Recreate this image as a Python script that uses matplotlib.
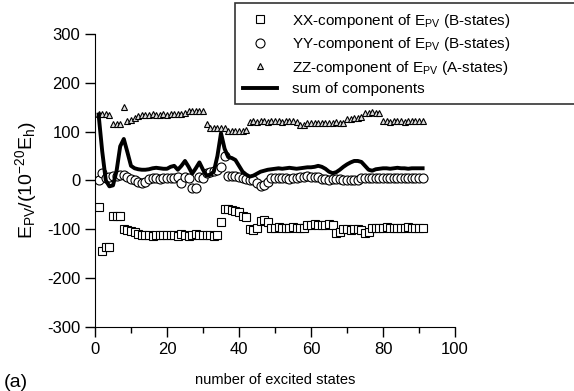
import numpy as np
import matplotlib
matplotlib.use("Agg")
import matplotlib.pyplot as plt

plt.rcParams['font.family'] = ['Liberation Sans', 'DejaVu Sans']
plt.rcParams['mathtext.fontset'] = 'custom'
plt.rcParams['mathtext.rm'] = 'Liberation Sans'
plt.rcParams['mathtext.it'] = 'Liberation Sans'
plt.rcParams['axes.unicode_minus'] = False

# number of excited states, 1..91
states = np.arange(1, 92)

# XX-component of E_PV (B-states)
xx_comp = [-55, -145, -137, -136, -72, -72, -72, -100, -101, -104,
           -106, -110, -112, -111, -112, -113, -112, -111, -112, -112,
           -111, -112, -113, -110, -112, -113, -111, -110, -111, -112,
           -111, -112, -113, -112, -84, -58, -58, -60, -62, -64,
           -73, -75, -100, -101, -97, -82, -80, -84, -97, -97,
           -96, -97, -98, -97, -96, -97, -97, -98, -91, -91,
           -90, -91, -92, -91, -90, -91, -107, -106, -100, -100,
           -101, -100, -100, -101, -107, -106, -97, -97, -98, -97,
           -96, -97, -97, -98, -97, -97, -96, -97, -98, -97, -97]

# YY-component of E_PV (B-states)
yy_comp = [0, 15, 5, 8, 10, 10, 12, 12, 8, 3,
           0, -3, -5, -3, 3, 5, 5, 4, 5, 6,
           5, 5, 8, -5, 8, 5, -15, -15, 8, 5,
           15, 18, 20, 22, 28, 50, 10, 10, 9, 8,
           5, 3, 2, 0, -5, -12, -10, -3, 5, 5,
           5, 6, 5, 4, 5, 5, 8, 8, 9, 8,
           8, 8, 3, 3, 2, 3, 3, 3, 2, 2,
           2, 2, 2, 5, 5, 5, 5, 6, 5, 5,
           5, 5, 5, 6, 5, 5, 5, 5, 5, 5, 5]

# ZZ-component of E_PV (A-states)
zz_comp = [136, 137, 136, 135, 116, 115, 116, 150, 122, 124,
           128, 133, 135, 134, 135, 136, 135, 135, 136, 135,
           136, 137, 136, 137, 138, 142, 142, 143, 142, 143,
           115, 108, 108, 107, 108, 108, 102, 102, 101, 102,
           102, 103, 120, 121, 120, 121, 122, 120, 121, 122,
           121, 120, 121, 122, 121, 120, 114, 114, 118, 118,
           117, 118, 118, 117, 118, 118, 119, 118, 118, 126,
           126, 128, 128, 129, 139, 139, 140, 139, 138, 121,
           121, 120, 121, 122, 121, 120, 121, 121, 122, 121, 121]

# sum of components
sum_comp = [135, 60, 0, -12, -10, 20, 70, 85, 58, 30,
            25, 23, 22, 22, 23, 25, 26, 25, 24, 24,
            28, 30, 22, 30, 40, 28, 14, 25, 37, 22,
            10, 12, 18, 50, 97, 65, 48, 46, 42, 30,
            18, 12, 8, 10, 14, 18, 20, 22, 23, 24,
            25, 24, 25, 26, 25, 24, 25, 26, 27, 27,
            28, 30, 28, 24, 18, 15, 17, 22, 28, 33,
            37, 40, 40, 38, 30, 22, 20, 23, 24, 25,
            25, 24, 25, 26, 25, 25, 24, 25, 25, 25, 25]

fig = plt.figure(figsize=(5.74, 3.91), dpi=100)
ax = fig.add_axes([0.1655, 0.1637, 0.6272, 0.7494])

ax.plot(states, xx_comp, ls='none', marker='s', ms=6, mfc='white',
        mec='black', mew=0.8, label='XX-component of E$_{\\rm PV}$ (B-states)')
ax.plot(states, yy_comp, ls='none', marker='o', ms=6.5, mfc='white',
        mec='black', mew=0.8, label='YY-component of E$_{\\rm PV}$ (B-states)')
ax.plot(states, zz_comp, ls='none', marker='^', ms=5, mfc='#dddddd',
        mec='black', mew=0.8, label='ZZ-component of E$_{\\rm PV}$ (A-states)')
ax.plot(states, sum_comp, color='black', lw=2.8, label='sum of components')

ax.set_xlim(0, 100)
ax.set_ylim(-300, 300)
ax.set_xticks(np.arange(0, 101, 20))
ax.set_xticks(np.arange(10, 100, 20), minor=True)
ax.set_yticks(np.arange(-300, 301, 100))
ax.spines['top'].set_visible(False)
ax.spines['right'].set_visible(False)
ax.tick_params(axis='both', which='major', direction='out', length=7, width=1,
               labelsize=12, colors='black')
ax.tick_params(axis='x', which='minor', direction='out', length=4, width=1)
ax.set_xlabel('number of excited states', fontsize=10.5, labelpad=12)
ax.set_ylabel('E$_{\\rm PV}$/(10$^{-20}$E$_{\\rm h}$)', fontsize=14, labelpad=6)

fig.text(0.006, 0.01, '(a)', fontsize=14)

leg = ax.legend(loc='upper left', bbox_to_anchor=(0.409, 0.992, 0.62, 0.0),
                bbox_transform=fig.transFigure, mode='expand', fontsize=11,
                frameon=True, fancybox=False, edgecolor='black',
                labelspacing=0.36, borderpad=0.55, handlelength=2.2,
                handletextpad=1.0, borderaxespad=0)
leg.get_frame().set_linewidth(1.2)

fig.savefig('out.png', dpi=100)
